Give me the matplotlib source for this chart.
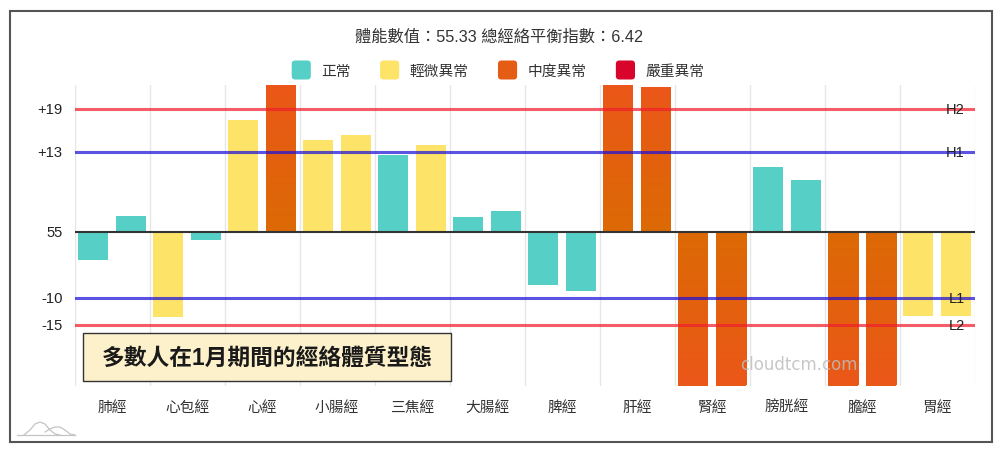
import matplotlib
matplotlib.use("Agg")
import matplotlib.pyplot as plt
import numpy as np
from matplotlib.colors import LinearSegmentedColormap
from matplotlib.legend_handler import HandlerPatch
from matplotlib.patches import FancyBboxPatch, Patch, Rectangle
from matplotlib.transforms import ScaledTranslation

plt.rcParams['font.family'] = ['Liberation Sans', 'Noto Sans CJK TC', 'DejaVu Sans']

categories = ["肺經", "心包經", "心經", "小腸經", "三焦經", "大腸經",
              "脾經", "肝經", "腎經", "膀胱經", "膽經", "胃經"]
values_left = [-4.55, -13.9, 18.2, 14.85, 12.4, 2.45, -8.7, 24, -25, 10.6, -25, -13.7]
values_right = [2.6, -1.35, 24, 15.8, 14.1, 3.3, -9.7, 23.5, -25, 8.4, -25, -13.7]
levels_left = [0, 1, 1, 1, 0, 0, 0, 2, 2, 0, 2, 1]
levels_right = [0, 0, 2, 1, 1, 0, 0, 2, 2, 0, 2, 1]
level_names = ["正常", "輕微異常", "中度異常", "嚴重異常"]
level_colors = ["#56cfc7", "#fde367", "#e55c14", "#d9042b"]

ref_values = [20, 13, 0, -10.7, -15.1]
ref_labels = ["+19", "+13", "55", "-10", "-15"]
limit_lines = [("H2", 20, "#f01f2e"), ("H1", 13, "#1c10d8"),
               ("L1", -10.7, "#1c10d8"), ("L2", -15.1, "#f01f2e")]

fig = plt.figure(figsize=(10, 4.52), dpi=100)
ax = fig.add_axes([0.0745, 65.5 / 452, 0.9, 300.5 / 452])

# orange bars get darker towards the baseline
orange = LinearSegmentedColormap.from_list("orange", ["#dc6a04", "#eb5719"])
gradient = np.linspace(0, 1, 64).reshape(-1, 1)

x = np.arange(len(categories))
offset = 0.25
width = 0.4
for pos, values, levels in [(x - offset, values_left, levels_left),
                            (x + offset, values_right, levels_right)]:
    bars = ax.bar(pos, values, width, color=[level_colors[l] for l in levels], zorder=2)
    for bar, level in zip(bars, levels):
        if level == 2:
            x0 = bar.get_x()
            img = ax.imshow(gradient, cmap=orange, origin="lower", aspect="auto", zorder=2.1,
                            extent=(x0, x0 + bar.get_width(), 0, bar.get_height()))
            img.set_clip_path(ax.patch)

ax.axhline(0, color="#333333", lw=1.5, zorder=3)
for name, value, color in limit_lines:
    ax.axhline(value, color=color, lw=2.2, alpha=0.72, zorder=4)
    ax.text(11.37, value, name, ha="right", va="center", fontsize=10.5, color="#222222", zorder=5)

ax.set_xlim(-0.5, 11.5)
ax.set_ylim(-25, 23.85)
ax.set_xticks(x)
ax.set_xticklabels(categories, fontsize=10.6, color="#333333", va="baseline")
ax.set_xticks(np.arange(-0.5, 12, 1), minor=True)
ax.set_yticks(ref_values)
ax.set_yticklabels(ref_labels, fontsize=10.6, color="#222222")
ax.tick_params(axis="both", which="both", length=0)
ax.tick_params(axis="x", pad=18)
ax.tick_params(axis="y", pad=8.5)
ax.grid(True, which="minor", axis="x", color="#e6e6e6", lw=1)
ax.set_axisbelow(True)
for spine in ax.spines.values():
    spine.set_visible(False)
# y labels sit slightly above their lines in the original
lift = ScaledTranslation(0, 1.5 / 100, fig.dpi_scale_trans)
for label in ax.get_yticklabels():
    label.set_transform(label.get_transform() + lift)


class RoundHandler(HandlerPatch):
    def create_artists(self, legend, orig_handle, xdescent, ydescent, width, height, fontsize, trans):
        p = FancyBboxPatch((-xdescent + 1.5, -ydescent + 1.5), width - 3, height - 3,
                           boxstyle="round,pad=1.5,rounding_size=2.5", lw=0,
                           facecolor=orig_handle.get_facecolor(), transform=trans)
        return [p]


handles = [Patch(facecolor=c, label=n) for c, n in zip(level_colors, level_names)]
leg = fig.legend(handles=handles, ncol=4, loc="center", bbox_to_anchor=(0.498, 1 - 71 / 452),
                 frameon=False, fontsize=10.6, handlelength=1.3, handleheight=1.61,
                 handletextpad=0.7, columnspacing=2.0, labelcolor="#333333",
                 handler_map={Patch: RoundHandler()})

fig.text(0.499, 1 - 37.5 / 452, "體能數值：55.33 總經絡平衡指數：6.42", ha="center", va="center",
         fontsize=11.7, color="#333333")

# overlay in pixel units for the frame, caption box and logo
over = fig.add_axes([0, 0, 1, 1], zorder=10)
over.set_xlim(0, 1000)
over.set_ylim(452, 0)
over.axis("off")
over.add_patch(Rectangle((9.5, 11.5), 982.5, 431.5, fill=False, ec="#555555", lw=1.5))
over.add_patch(Rectangle((82.5, 334), 368, 48, fc="#fdf1cb", ec="#333333", lw=1))
over.text(267, 358, "多數人在1月期間的經絡體質型態", ha="center", va="center",
          fontsize=16.4, fontweight="bold", color="#1a1a1a")
over.text(799, 365, "cloudtcm.com", ha="center", va="center", fontsize=12,
          family="DejaVu Sans", color="#bdbdbd", alpha=0.85)
# logo: baseline and two overlapping hills
over.plot([17, 75], [436, 436], color="#c4c4c4", lw=0.9)
over.plot([24, 30, 35, 40, 45, 50, 55, 60], [436, 431, 425, 423, 425, 431, 435, 436],
          color="#c4c4c4", lw=0.9)
over.plot([45, 50, 55, 60, 65, 70, 75], [433, 430, 428, 428, 431, 435, 436],
          color="#c4c4c4", lw=0.9)

fig.savefig("out.png", dpi=100, facecolor="white")
